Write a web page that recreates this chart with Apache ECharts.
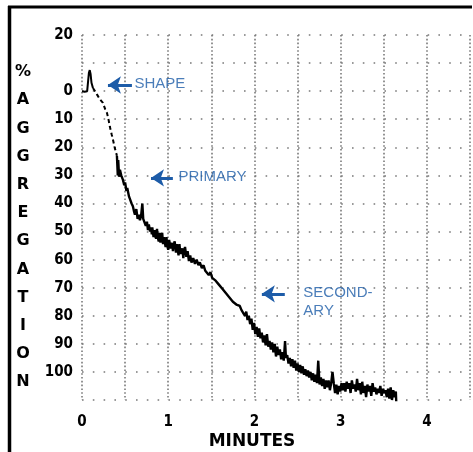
<!DOCTYPE html>
<html>
<head>
<meta charset="utf-8">
<script src="https://cdn.jsdelivr.net/npm/echarts@6/dist/echarts.min.js"></script>
<style>html,body{margin:0;padding:0;background:#fff}#chart{width:473px;height:452px}</style>
</head>
<body>
<div id="chart"></div>
<script>
// ---- tick labels ----
const xTickLabels = ['0', '', '1', '', '2', '', '3', '', '4', ''];          // values 0 .. 4.5 step 0.5
const yTickLabels = ['20', '', '0', '10', '20', '30', '40', '50', '60', '70', '80', '90', '100', '']; // values -20 .. 110 step 10
const xAxisTitle = 'MINUTES';
const yAxisTitle = ['%', 'A', 'G', 'G', 'R', 'E', 'G', 'A', 'T', 'I', 'O', 'N'];

// ---- trace: [minutes, % aggregation] ----
const shapeChange = [
  [0, 0], [0.03, 0.2], [0.06, 0], [0.075, -0.5], [0.08, -6.5], [0.09, -7.5], [0.1, -6], [0.11, -3], [0.127, -1.1]
];
const rapidFall = [
  [0.127, -1.1], [0.15, 0], [0.18, 1.5], [0.21, 3], [0.243, 4.2], [0.27, 6.5], [0.29, 7.8], [0.31, 10.5],
  [0.324, 12.8], [0.345, 15.5], [0.36, 17.4], [0.38, 20.2], [0.405, 23]
];
const aggregationTrace = [
  [0.405, 23], [0.415, 30], [0.42, 24.5], [0.43, 30.5], [0.44, 28], [0.455, 30], [0.475, 31.6], [0.49, 33.5],
  [0.5, 32.5], [0.515, 35.5], [0.525, 34.5], [0.545, 37.5], [0.556, 38], [0.575, 40], [0.59, 41], [0.605, 43],
  [0.614, 44], [0.63, 42], [0.645, 45.5], [0.66, 44], [0.672, 46], [0.685, 44.5], [0.7, 40], [0.71, 45.5],
  [0.725, 46], [0.74, 48], [0.753, 46.5], [0.765, 49.5], [0.775, 47.5], [0.79, 50], [0.8, 48.5], [0.81, 51],
  [0.815, 48.5], [0.83, 52], [0.84, 49.5], [0.845, 51.5], [0.86, 52.5], [0.87, 49], [0.875, 51.5], [0.89, 53.5],
  [0.9, 50.5], [0.91, 54], [0.915, 52], [0.93, 50.5], [0.94, 54.5], [0.95, 52], [0.955, 53], [0.97, 55.5],
  [0.98, 52], [0.985, 54.5], [1.0, 56.5], [1.01, 53], [1.015, 52.5], [1.03, 56], [1.045, 54], [1.055, 57],
  [1.06, 55], [1.075, 53.5], [1.09, 57.5], [1.1, 54.5], [1.105, 55.5], [1.12, 58.5], [1.13, 54.5], [1.135, 56],
  [1.15, 58], [1.165, 56], [1.175, 59.5], [1.18, 57.5], [1.195, 55.5], [1.21, 59], [1.225, 57], [1.24, 60.5],
  [1.255, 58.5], [1.27, 61], [1.29, 59.5], [1.31, 61.5], [1.33, 60], [1.35, 62], [1.367, 61], [1.39, 63],
  [1.41, 62], [1.43, 64], [1.45, 63.5], [1.47, 65.5], [1.49, 64.5], [1.51, 66.5], [1.53, 66], [1.55, 67.5],
  [1.57, 67.5], [1.59, 69], [1.61, 69], [1.63, 70.5], [1.65, 70.5], [1.67, 72], [1.69, 72], [1.71, 73.5],
  [1.73, 73.5], [1.75, 75], [1.77, 74.5], [1.79, 76], [1.81, 76], [1.83, 76.5], [1.85, 78], [1.87, 77.5],
  [1.89, 80], [1.905, 78.5], [1.92, 81.5], [1.935, 80], [1.95, 83], [1.965, 81], [1.98, 85], [1.995, 82.5],
  [2.01, 86.5], [2.025, 84], [2.04, 87.5], [2.055, 84.5], [2.07, 88], [2.085, 86], [2.1, 89.5], [2.115, 87],
  [2.13, 90.5], [2.145, 86.5], [2.16, 91], [2.175, 89], [2.19, 92], [2.205, 89.5], [2.22, 93], [2.235, 90],
  [2.25, 94.5], [2.265, 91], [2.28, 94], [2.295, 92], [2.31, 95.5], [2.325, 93], [2.34, 96], [2.355, 89],
  [2.365, 95], [2.38, 94], [2.395, 97], [2.41, 95], [2.425, 98], [2.44, 95.5], [2.455, 98.5], [2.47, 96],
  [2.485, 99.5], [2.5, 97], [2.515, 100], [2.53, 97.5], [2.545, 100.5], [2.56, 98], [2.575, 101], [2.59, 99],
  [2.605, 101.5], [2.62, 99.5], [2.635, 102], [2.65, 100], [2.665, 103], [2.68, 100.5], [2.695, 103.5], [2.71, 101],
  [2.725, 104], [2.74, 96], [2.755, 104.5], [2.77, 102], [2.785, 105], [2.8, 102.5], [2.815, 106], [2.83, 103],
  [2.845, 105.5], [2.86, 103], [2.875, 106.5], [2.89, 104], [2.905, 100], [2.92, 104], [2.935, 107.5], [2.95, 104.5],
  [2.965, 108], [2.98, 105], [2.995, 107], [3.01, 104], [3.025, 106.5], [3.04, 104], [3.055, 107], [3.07, 103.5],
  [3.085, 106], [3.1, 104], [3.115, 107.5], [3.13, 103], [3.145, 106], [3.16, 104.5], [3.175, 107], [3.19, 102.5],
  [3.205, 106.5], [3.22, 104], [3.235, 108], [3.25, 103.5], [3.265, 107.5], [3.28, 105], [3.295, 109], [3.31, 104.5],
  [3.325, 107], [3.34, 105], [3.355, 108.5], [3.37, 104], [3.385, 107], [3.4, 105.5], [3.415, 108], [3.43, 106],
  [3.445, 107.5], [3.46, 105], [3.475, 108.5], [3.49, 106], [3.505, 107.5], [3.52, 106.5], [3.535, 109], [3.55, 106],
  [3.565, 109.5], [3.58, 105.5], [3.595, 110], [3.61, 106.5], [3.625, 109], [3.64, 107], [3.645, 111]
];

// ---- annotations ----
const annotationTexts = ['SHAPE', 'PRIMARY', 'SECOND-\nARY'];
const annotationAnchors = [[0.603, -2.5], [1.112, 30.6], [2.561, 75.1]];
const arrowTails = [[0.579, -2.2], [1.054, 30.9], [2.352, 72.2]];
const arrowTips = [[0.301, -2.2], [0.80, 30.9], [2.086, 72.2]];

const BLUE = '#1d5ca8';
const GRIDC = '#7a7a7a';
const LABEL_FONT = '"DejaVu Sans Condensed", "DejaVu Sans", sans-serif';

const chart = echarts.init(document.getElementById('chart'), null, { renderer: 'canvas' });
const traceStyle = { color: '#000', width: 2.4 };
chart.setOption({
  animation: false,
  backgroundColor: '#fff',
  grid: { left: 82, right: 3, top: 35, bottom: 52, containLabel: false },
  xAxis: {
    type: 'value', min: 0, max: 4.5, interval: 0.5,
    axisLine: { show: false }, axisTick: { show: false },
    axisLabel: {
      margin: 15, color: '#000', fontSize: 15, fontWeight: 'bold', fontFamily: LABEL_FONT,
      formatter: (v) => xTickLabels[Math.round(v / 0.5)] || '',
      showMinLabel: true, showMaxLabel: true
    },
    splitLine: { show: true, lineStyle: { color: GRIDC, width: 1.6, type: [1.6, 2.2] } }
  },
  yAxis: {
    type: 'value', inverse: true, min: -20, max: 110, interval: 10,
    axisLine: { show: false }, axisTick: { show: false },
    axisLabel: {
      margin: 9, color: '#000', fontSize: 15, fontWeight: 'bold', fontFamily: LABEL_FONT,
      formatter: (v) => yTickLabels[Math.round((v + 20) / 10)] || '',
      showMinLabel: true, showMaxLabel: true
    },
    splitLine: { show: true, lineStyle: { color: GRIDC, width: 1.6, type: [1.6, 9.2] } }
  },
  series: [
    { type: 'line', data: shapeChange, symbol: 'none', lineStyle: { color: '#000', width: 2 }, silent: true },
    { type: 'line', data: rapidFall, symbol: 'none', lineStyle: { color: '#000', width: 2, type: [4, 3] }, silent: true },
    { type: 'line', data: aggregationTrace, symbol: 'none', lineStyle: traceStyle, silent: true },
    {
      type: 'scatter', silent: true, symbolSize: 1,
      itemStyle: { color: 'rgba(0,0,0,0)' },
      data: annotationAnchors.map((p, i) => ({ value: p, name: annotationTexts[i] })),
      label: {
        show: true, position: 'right', distance: 0, formatter: (p) => p.name,
        color: BLUE, fontSize: 15, fontFamily: '"Liberation Sans", Arial, sans-serif', lineHeight: 18
      },
      markLine: {
        silent: true, symbol: ['none', 'arrow'], symbolSize: [13, 13],
        label: { show: false },
        lineStyle: { color: BLUE, width: 3, type: 'solid' },
        emphasis: { disabled: true },
        data: arrowTails.map((t, i) => [{ coord: t }, { coord: arrowTips[i] }])
      }
    }
  ],
  graphic: [
    { type: 'line', shape: { x1: 9.5, y1: 6, x2: 9.5, y2: 452 }, style: { stroke: '#000', lineWidth: 3.5 } },
    { type: 'line', shape: { x1: 8, y1: 7, x2: 472, y2: 7 }, style: { stroke: '#000', lineWidth: 3 } },
    {
      type: 'text', x: 252, y: 442,
      style: { text: xAxisTitle, fill: '#000', font: 'bold 17px "DejaVu Sans", sans-serif', textAlign: 'center', textVerticalAlign: 'middle' }
    },
    {
      type: 'text', x: 23, y: 58,
      style: { text: yAxisTitle.join('\n'), fill: '#000', font: 'bold 16px "DejaVu Sans", sans-serif', lineHeight: 28.2, textAlign: 'center', textVerticalAlign: 'top' }
    }
  ]
});
</script>
</body>
</html>
